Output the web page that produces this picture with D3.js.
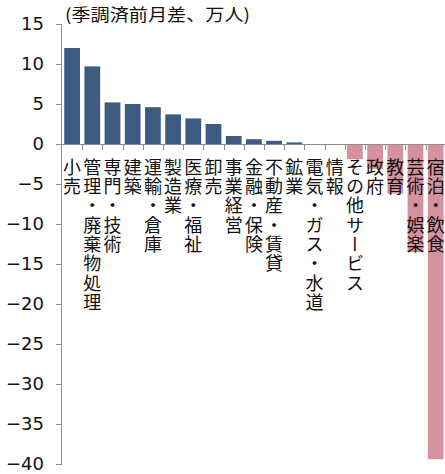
<!DOCTYPE html>
<html><head><meta charset="utf-8">
<script src="https://cdn.jsdelivr.net/npm/d3@7"></script>
<style>html,body{margin:0;padding:0;background:#fff;}svg{display:block;}</style>
</head><body>
<script>
const categories = ["小売","管理・廃棄物処理","専門・技術","建築","運輸・倉庫","製造業","医療・福祉","卸売","事業経営","金融・保険","不動産・賃貸","鉱業","電気・ガス・水道","情報","その他サービス","政府","教育","芸術・娯楽","宿泊・飲食"];
const values = [12.0, 9.7, 5.2, 5.0, 4.6, 3.7, 3.2, 2.5, 1.0, 0.6, 0.4, 0.2, 0.0, 0.0, -1.9, -3.1, -6.2, -13.5, -39.4];
const yTicks = [15, 10, 5, 0, -5, -10, -15, -20, -25, -30, -35, -40];
const unitLabel = "(季調済前月差、万人)";

const W = 445, H = 474;
const svg = d3.select("body").append("svg").attr("width", W).attr("height", H);

const x0 = 62, step = 20.2;
const x = d3.scaleBand().domain(categories).range([x0, x0 + step * categories.length]).paddingInner(0.22).paddingOuter(0.11);
const y = d3.scaleLinear().domain([-40, 15]).range([464, 24]);

// bars
svg.append("g").selectAll("rect").data(values).join("rect")
  .attr("x", (d, i) => x(categories[i]))
  .attr("width", x.bandwidth())
  .attr("y", d => y(Math.max(0, d)))
  .attr("height", d => Math.abs(y(d) - y(0)))
  .attr("fill", d => d >= 0 ? "#3d5b81" : "#d6919f");

// y axis
const yAxis = svg.append("g").attr("transform", `translate(${x0},0)`)
  .call(d3.axisLeft(y).tickValues(yTicks).tickSize(6).tickPadding(12).tickFormat(d3.format("d")));
yAxis.select(".domain").attr("stroke", "#8c8c8c").attr("d", `M-0.5,${y(15)}V${y(-40)}`);
yAxis.selectAll(".tick line").attr("stroke", "#8c8c8c");
yAxis.selectAll(".tick text").attr("font-family", "DejaVu Sans").attr("font-size", 18).attr("fill", "#111");

// zero line with ticks at category boundaries
const boundaries = d3.range(categories.length + 1).map(i => x0 + i * step);
const zx = svg.append("g");
zx.append("line").attr("x1", x0).attr("x2", W).attr("y1", y(0) + 0.5).attr("y2", y(0) + 0.5).attr("stroke", "#8c8c8c");
zx.selectAll("line.t").data(boundaries.slice(1)).join("line").attr("class", "t")
  .attr("x1", d => Math.round(d) + 0.5).attr("x2", d => Math.round(d) + 0.5)
  .attr("y1", y(0)).attr("y2", y(0) + 6).attr("stroke", "#8c8c8c");

// category labels (vertical writing)
const startY = 158;
svg.append("g").selectAll("text").data(categories).join("text")
  .attr("x", d => x(d) + x.bandwidth() / 2)
  .attr("y", startY)
  .style("writing-mode", "vertical-rl")
  .style("letter-spacing", "1.3px")
  .attr("font-family", "Noto Sans CJK JP").attr("font-size", 18).attr("fill", "#111")
  .text(d => d);

// unit label
svg.append("text").attr("x", 65).attr("y", 21)
  .attr("font-family", "Noto Sans CJK JP").attr("font-size", 17).attr("fill", "#111")
  .attr("textLength", 185).attr("lengthAdjust", "spacingAndGlyphs")
  .text(unitLabel);
</script>
</body></html>
